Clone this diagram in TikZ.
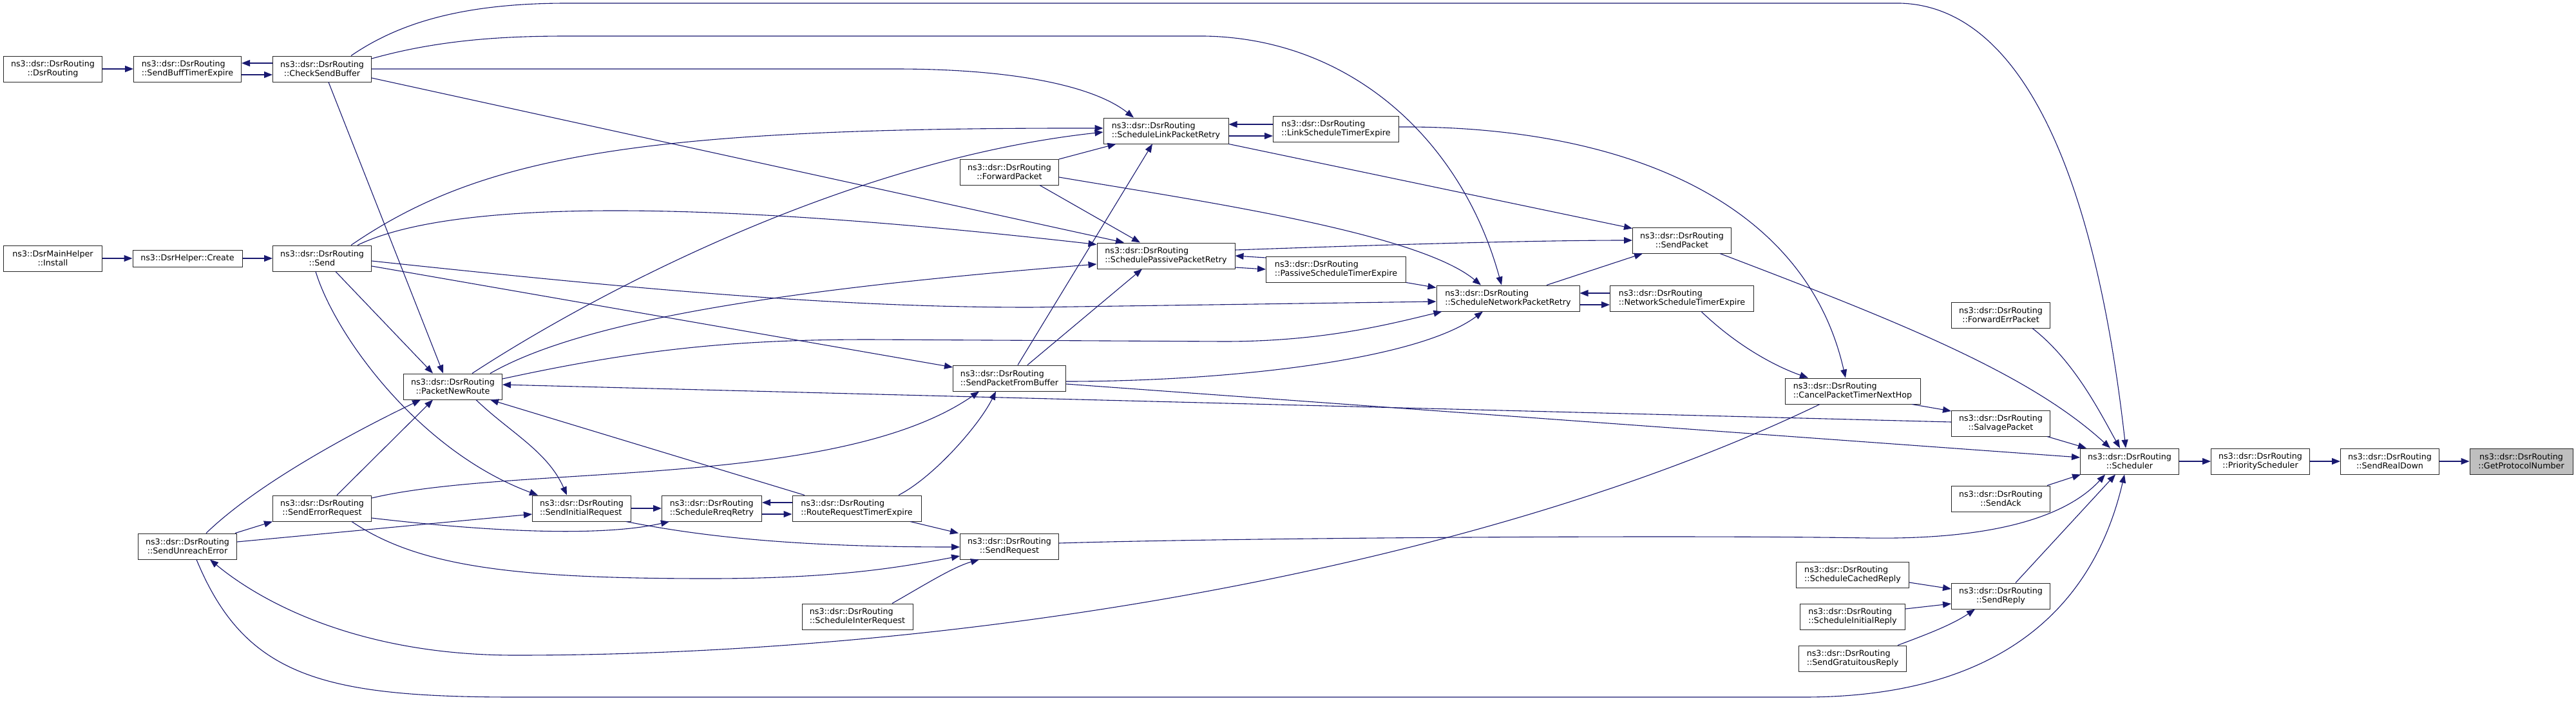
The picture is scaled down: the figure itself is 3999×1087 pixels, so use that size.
\documentclass[tikz,border=0pt]{standalone}
\usepackage{fontspec}
\setmainfont{DejaVu Sans}
\usetikzlibrary{arrows.meta}
\definecolor{edgeblue}{HTML}{191970}
\definecolor{focusgrey}{HTML}{BFBFBF}

\begin{document}
\begin{tikzpicture}[x=1pt,y=-1pt,->,>={Triangle[length=13pt,width=10pt]},
           edgeblue, line width=1.1pt,
           fn/.style={draw=black!85, text=black, fill=white, line width=1pt, align=center,
             minimum height=40pt, minimum width=153pt, inner xsep=6pt,
             font=\fontsize{12.7}{14.5}\selectfont},
           fnl/.style={fn, align=left}]
          \useasboundingbox (0,0) rectangle (3999,1087);
          \node[fn] (dsrr) at (82,107) {ns3::dsr::DsrRouting\\::DsrRouting};
          \node[fnl, minimum width=167pt] (sbte) at (291,107) {ns3::dsr::DsrRouting\\::SendBuffTimerExpire};
          \node[fn] (csb) at (500,107) {ns3::dsr::DsrRouting\\::CheckSendBuffer};
          \node[fn] (inst) at (82,401) {ns3::DsrMainHelper\\::Install};
          \node[fn, minimum width=170pt, minimum height=26pt] (crt) at (291,401) {ns3::DsrHelper::Create};
          \node[fn] (snd) at (500,401) {ns3::dsr::DsrRouting\\::Send};
          \node[fn] (sue) at (291,848) {ns3::dsr::DsrRouting\\::SendUnreachError};
          \node[fn] (ser) at (500,789) {ns3::dsr::DsrRouting\\::SendErrorRequest};
          \node[fn] (pnr) at (703,600) {ns3::dsr::DsrRouting\\::PacketNewRoute};
          \node[fnl] (sir) at (903,789) {ns3::dsr::DsrRouting\\::SendInitialRequest};
          \node[fnl, minimum width=155pt] (srr) at (1105,789) {ns3::dsr::DsrRouting\\::ScheduleRreqRetry};
          \node[fnl, minimum width=200pt] (rrte) at (1330,789) {ns3::dsr::DsrRouting\\::RouteRequestTimerExpire};
          \node[fnl, minimum width=172pt] (sirq) at (1331,957) {ns3::dsr::DsrRouting\\::ScheduleInterRequest};
          \node[fn] (sreq) at (1567,848) {ns3::dsr::DsrRouting\\::SendRequest};
          \node[fnl, minimum width=175pt] (spfb) at (1567,587) {ns3::dsr::DsrRouting\\::SendPacketFromBuffer};
          \node[fn] (fwd) at (1567,267) {ns3::dsr::DsrRouting\\::ForwardPacket};
          \node[fnl, minimum width=194pt] (slpr) at (1810,203) {ns3::dsr::DsrRouting\\::ScheduleLinkPacketRetry};
          \node[fnl, minimum width=195pt] (lste) at (2074,200) {ns3::dsr::DsrRouting\\::LinkScheduleTimerExpire};
          \node[fnl, minimum width=214pt] (sppr) at (1810,397) {ns3::dsr::DsrRouting\\::SchedulePassivePacketRetry};
          \node[fnl, minimum width=217pt] (pste) at (2074,418) {ns3::dsr::DsrRouting\\::PassiveScheduleTimerExpire};
          \node[fnl, minimum width=222pt] (snpr) at (2341,463) {ns3::dsr::DsrRouting\\::ScheduleNetworkPacketRetry};
          \node[fnl, minimum width=223pt] (nste) at (2611,463) {ns3::dsr::DsrRouting\\::NetworkScheduleTimerExpire};
          \node[fn] (spk) at (2611,373) {ns3::dsr::DsrRouting\\::SendPacket};
          \node[fnl, minimum width=210pt] (cptn) at (2876,607) {ns3::dsr::DsrRouting\\::CancelPacketTimerNextHop};
          \node[fn] (fep) at (3106,489) {ns3::dsr::DsrRouting\\::ForwardErrPacket};
          \node[fn] (salv) at (3106,657) {ns3::dsr::DsrRouting\\::SalvagePacket};
          \node[fn] (sch) at (3306,716) {ns3::dsr::DsrRouting\\::Scheduler};
          \node[fn] (sack) at (3106,774) {ns3::dsr::DsrRouting\\::SendAck};
          \node[fnl, minimum width=175pt] (scr) at (2876,892) {ns3::dsr::DsrRouting\\::ScheduleCachedReply};
          \node[fn] (srep) at (3106,925) {ns3::dsr::DsrRouting\\::SendReply};
          \node[fnl, minimum width=163pt] (sinr) at (2876,957) {ns3::dsr::DsrRouting\\::ScheduleInitialReply};
          \node[fnl, minimum width=167pt] (sgr) at (2876,1022) {ns3::dsr::DsrRouting\\::SendGratuitousReply};
          \node[fn] (psch) at (3509,716) {ns3::dsr::DsrRouting\\::PriorityScheduler};
          \node[fn] (srd) at (3710,716) {ns3::dsr::DsrRouting\\::SendRealDown};
          \node[fn, fill=focusgrey, minimum width=160pt] (gpn) at (3914,716) {ns3::dsr::DsrRouting\\::GetProtocolNumber};
          % left part
          \draw (dsrr) -- (sbte);
          \draw ([yshift=-9pt]sbte.east) -- ([yshift=-9pt]csb.west);
          \draw ([yshift=9pt]csb.west) -- ([yshift=9pt]sbte.east);
          \draw (inst) -- (crt);
          \draw (crt) -- (snd);
          \draw ([xshift=45pt]csb.north) .. controls (620,35) and (720,5) .. (880,5) -- (2950,5)
            .. controls (3130,10) and (3250,250) .. ([xshift=-6pt]sch.north);
          \draw ([yshift=16pt]csb.east) .. controls (680,62) and (780,56) .. (880,56) -- (1870,56)
            .. controls (2100,60) and (2270,220) .. ([xshift=-10pt]snpr.north);
          \draw (csb.east) -- (1390,107) .. controls (1580,107) and (1700,135) .. ([xshift=-50pt]slpr.north);
          \draw ([yshift=-14pt]csb.east) -- ([xshift=-65pt]sppr.north);
          \draw ([xshift=10pt]csb.south) -- ([xshift=-15pt]pnr.north);
          \draw ([xshift=45pt]snd.north) .. controls (750,240) and (1000,198) .. ([yshift=4pt]slpr.west);
          \draw ([xshift=55pt]snd.north) .. controls (680,320) and (1000,300) .. ([yshift=-3pt]sppr.north west);
          \draw ([yshift=-4pt]snd.east) .. controls (1000,450) and (1300,477) .. (1600,477) -- ([yshift=-5pt]snpr.west);
          \draw ([yshift=-12pt]snd.east) -- ([yshift=17pt]spfb.west);
          \draw ([xshift=21pt]snd.south) -- ([xshift=-31pt]pnr.north);
          \draw ([xshift=-10pt]snd.south) .. controls (520,520) and (650,700) .. ([xshift=-68pt]sir.north);
          \draw ([xshift=30pt]pnr.north) .. controls (900,470) and (1300,250) .. ([yshift=-2pt]slpr.west);
          \draw ([xshift=58pt]pnr.north) .. controls (900,500) and (1200,450) .. ([yshift=-13pt]sppr.west);
          \draw ([yshift=12pt]pnr.east) .. controls (1000,540) and (1150,527) .. (1350,527) -- (1900,530)
            .. controls (2050,530) and (2150,505) .. ([xshift=9pt]snpr.south west);
          \draw ([xshift=36pt]pnr.south) .. controls (790,670) and (850,700) .. ([xshift=-23pt]sir.north);
          \draw ([xshift=29pt]sue.north) .. controls (400,750) and (550,670) .. ([xshift=-50pt]pnr.south);
          \draw ([xshift=74pt]sue.north) -- (ser.south west);
          \draw ([yshift=7pt]sue.east) -- ([yshift=-9pt]sir.west);
          \draw ([xshift=14pt]sue.south) .. controls (380,1050) and (500,1082) .. (800,1082) -- (2800,1082)
            .. controls (3150,1082) and (3260,900) .. ([xshift=-8pt]sch.south);
          \draw ([xshift=23pt]ser.north) -- ([xshift=-31pt]pnr.south);
          \draw ([yshift=16pt]ser.east) .. controls (800,720) and (1300,760) .. ([xshift=-47pt]spfb.south);
          \draw ([yshift=-15pt]ser.east) .. controls (800,830) and (950,830) .. ([xshift=12pt]srr.south west);
          \draw ([xshift=46pt]ser.south) .. controls (650,880) and (800,898) .. (1100,898)
            .. controls (1300,898) and (1400,880) .. ([yshift=-15pt]sreq.west);
          % request handling
          \draw (sir) -- (srr);
          \draw ([xshift=69pt]sir.south) .. controls (1100,835) and (1250,849) .. ([yshift=-1pt]sreq.west);
          \draw ([yshift=-9pt]srr.east) -- ([yshift=-9pt]rrte.west);
          \draw ([yshift=9pt]rrte.west) -- ([yshift=9pt]srr.east);
          \draw ([xshift=-81pt]rrte.north) -- ([xshift=58pt]pnr.south);
          \draw ([xshift=65pt]rrte.north) .. controls (1450,740) and (1520,660) .. ([xshift=-21pt]spfb.south);
          \draw ([xshift=83pt]rrte.south) -- ([xshift=-2pt]sreq.north west);
          \draw ([xshift=54pt]sirq.north) .. controls (1440,905) and (1480,880) .. ([xshift=-47pt]sreq.south);
          \draw ([yshift=5pt]sreq.east) .. controls (1900,835) and (2600,830) .. (2900,835)
            .. controls (3100,838) and (3210,800) .. ([xshift=-38pt]sch.south);
          \draw ([xshift=13pt]spfb.north) -- ([xshift=-21pt]slpr.south);
          \draw ([xshift=28pt]spfb.north) -- ([xshift=-37pt]sppr.south);
          \draw ([yshift=-5pt]spfb.east) .. controls (1900,592) and (2200,560) .. ([xshift=-39pt]snpr.south);
          \draw ([yshift=-9pt]spfb.east) -- ([yshift=6pt]sch.west);
          \draw ([yshift=20pt]fwd.east) -- ([xshift=20pt]slpr.south west);
          \draw ([xshift=47pt]fwd.south) -- ([xshift=-40pt]sppr.north);
          \draw ([yshift=-8pt]fwd.east) .. controls (1850,310) and (2200,360) .. ([xshift=-42pt]snpr.north);
          % retry timers
          \draw ([yshift=-8pt]slpr.east) -- ([yshift=-11pt]lste.west);
          \draw ([yshift=7pt]lste.west) -- ([yshift=10pt]slpr.east);
          \draw (slpr.south east) -- ([yshift=-2pt]spk.north west);
          \draw ([yshift=-18pt]sppr.east) -- (pste.west);
          \draw ([yshift=18pt]pste.west) -- (sppr.east);
          \draw ([yshift=9pt]sppr.east) .. controls (2200,378) and (2400,373) .. (spk.west);
          \draw (pste.south east) -- ([yshift=-4pt]snpr.north west);
          \draw ([yshift=-10pt]snpr.east) -- ([yshift=-10pt]nste.west);
          \draw ([yshift=8pt]nste.west) -- ([yshift=8pt]snpr.east);
          \draw ([xshift=60pt]snpr.north) -- ([xshift=16pt]spk.south west);
          \draw ([yshift=3pt]lste.east) .. controls (2500,195) and (2800,300) .. ([xshift=-11pt]cptn.north);
          \draw ([xshift=30pt]nste.south) .. controls (2700,540) and (2760,570) .. ([xshift=-69pt]cptn.north);
          \draw ([xshift=92pt]cptn.south) -- ([yshift=19pt]salv.west);
          \draw ([xshift=-51pt]cptn.south) .. controls (2300,880) and (1500,1017) .. (800,1017)
            .. controls (550,1017) and (400,930) .. ([xshift=35pt]sue.south);
          \draw ([yshift=2pt]salv.west) -- ([yshift=3pt]pnr.east);
          % scheduler part
          \draw ([xshift=-5pt]salv.south east) -- ([xshift=10pt]sch.north west);
          \draw ([xshift=-18pt]spk.south east) .. controls (2950,500) and (3150,580) .. ([xshift=-30pt]sch.north);
          \draw ([xshift=49pt]fep.south) .. controls (3220,560) and (3260,640) .. ([xshift=-15pt]sch.north);
          \draw ([xshift=-5pt]sack.north east) -- ([xshift=1pt]sch.south west);
          \draw ([xshift=23pt]srep.north) -- ([xshift=-22pt]sch.south);
          \draw ([yshift=-12pt]scr.east) -- ([yshift=11pt]srep.west);
          \draw ([yshift=12pt]sinr.east) -- ([yshift=-12pt]srep.west);
          \draw ([xshift=70pt]sgr.north) .. controls (2990,985) and (3030,970) .. ([xshift=-40pt]srep.south);
          \draw (sch) -- (psch);
          \draw (psch) -- (srd);
          \draw (srd) -- (gpn);
         \end{tikzpicture}
\end{document}
